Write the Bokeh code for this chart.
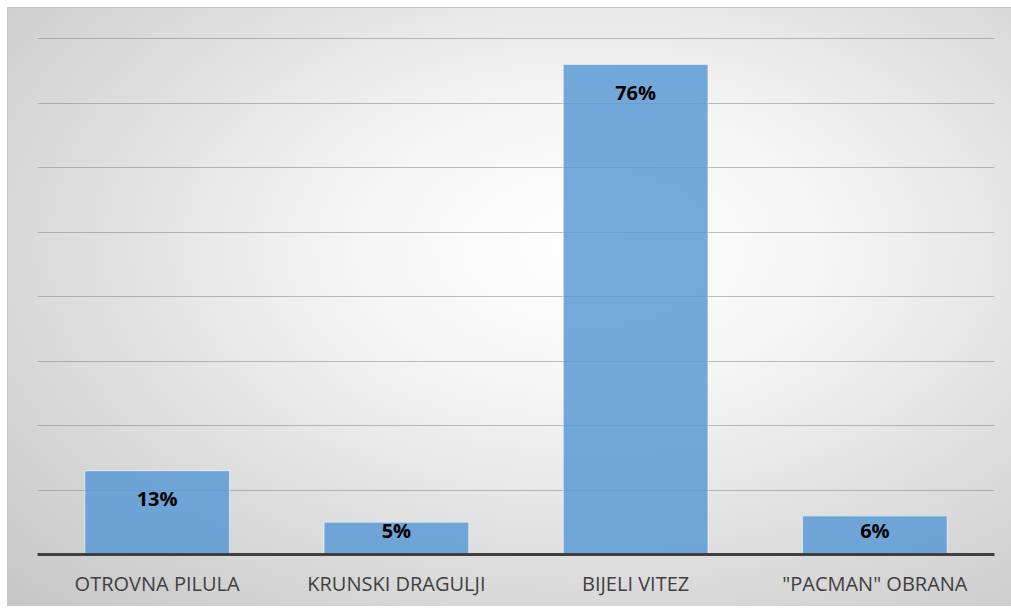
from bokeh.plotting import figure
from bokeh.models import ColumnDataSource, FixedTicker
from bokeh.core.properties import value
from bokeh.embed import file_html
from bokeh.resources import INLINE

categories = ["OTROVNA PILULA", "KRUNSKI DRAGULJI", "BIJELI VITEZ", "\"PACMAN\" OBRANA"]
shares = [13, 5, 76, 6]
share_labels = ["13%", "5%", "76%", "6%"]
y_ticks = [0, 10, 20, 30, 40, 50, 60, 70, 80]

label_y = [max(v - 4.3, 3.7) for v in shares]
src = ColumnDataSource(dict(cat=categories, v=shares, lab=share_labels, ly=label_y))

p = figure(x_range=categories, y_range=(0, 80.5), width=1004, height=599,
           output_backend="svg", toolbar_location=None,
           min_border_left=29, min_border_right=18, min_border_top=27, min_border_bottom=53)

p.styles = {"background-image": "radial-gradient(ellipse farthest-corner at 58% 40%, #ffffff 0%, #f6f6f6 28%, #dedede 62%, #c6c6c6 100%)",
            "border-top": "1px solid #c0c0c0", "border-left": "1px solid #c8c8c8",
            "margin-left": "7px", "margin-top": "7px"}
p.background_fill_alpha = 0
p.border_fill_alpha = 0
p.outline_line_color = None

p.vbar(x="cat", top="v", width=0.605, source=src, fill_color="#5b9bd5", fill_alpha=0.85,
       line_color="#ffffff", line_alpha=0.5, line_width=1.2)

p.text(x="cat", y="ly", text="lab", source=src, text_font=value("Open Sans"),
       text_font_style="bold", text_font_size="20px", text_color="#000000",
       text_align="center", text_baseline="middle")

p.yaxis.visible = False
p.yaxis.ticker = FixedTicker(ticks=y_ticks)
p.ygrid.ticker = FixedTicker(ticks=y_ticks)
p.ygrid.grid_line_color = "#7f7f7f"
p.ygrid.grid_line_alpha = 0.5
p.ygrid.grid_line_width = 1.2
p.xgrid.visible = False

p.xaxis.axis_line_color = "#404040"
p.xaxis.axis_line_width = 3
p.xaxis.major_tick_line_color = None
p.xaxis.minor_tick_line_color = None
p.xaxis.major_label_text_font = "Open Sans"
p.xaxis.major_label_text_font_size = "20px"
p.xaxis.major_label_text_color = "#404040"
p.xaxis.major_label_standoff = 9
p.x_range.range_padding = 0

open("out.html", "w").write(file_html(p, INLINE))
